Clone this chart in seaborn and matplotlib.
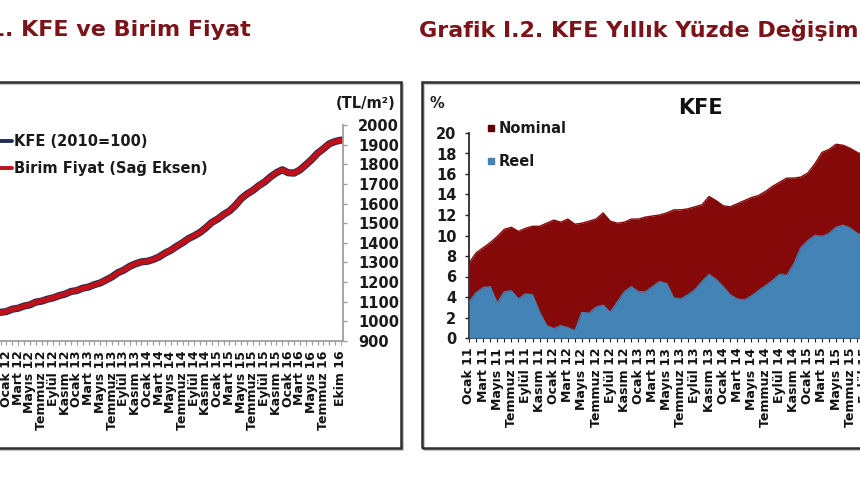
import matplotlib
matplotlib.use("Agg")
import matplotlib.pyplot as plt
import seaborn as sns
import pandas as pd
from matplotlib.patches import Rectangle
from matplotlib.lines import Line2D

sns.set_theme(style="white")
plt.rcParams["font.family"] = ["DejaVu Sans"]

# ---------------- data ----------------
month_names = ["Ocak", "Şubat", "Mart", "Nisan", "Mayıs", "Haziran", "Temmuz",
               "Ağustos", "Eylül", "Ekim", "Kasım", "Aralık"]

# Left chart: categories Ocak 10 .. Ekim 16 (monthly)
left_categories = [f"{month_names[i % 12]} {10 + i // 12}" for i in range(82)]
left_labelled = list(range(0, 79, 2)) + [81]
left_first_visible = 23  # Aralık 11 - earlier months are outside the crop

birim_fiyat = [1044, 1051, 1061, 1068, 1077, 1085, 1097, 1104, 1112, 1121,
               1130, 1140, 1151, 1158, 1168, 1176, 1186, 1197, 1210, 1228,
               1247, 1262, 1279, 1294, 1302, 1307, 1314, 1329, 1346, 1363,
               1381, 1401, 1420, 1437, 1452, 1478, 1503, 1522, 1543, 1563,
               1589, 1626, 1648, 1668, 1690, 1711, 1735, 1758, 1771, 1758,
               1754, 1772, 1796, 1825, 1855, 1880, 1903, 1917, 1922]
kfe = [104.6, 105.0, 106.2, 106.7, 107.8, 108.4, 109.8, 110.3, 111.3, 112.0,
       113.1, 113.9, 115.2, 115.7, 116.9, 117.5, 118.7, 119.6, 121.1, 122.7,
       124.8, 126.1, 128.0, 129.3, 130.3, 130.6, 131.5, 132.8, 134.7, 136.2,
       138.2, 140.0, 142.1, 143.6, 145.3, 147.7, 150.4, 152.1, 154.4, 156.2,
       159.0, 162.5, 164.9, 166.7, 169.1, 171.0, 173.6, 175.7, 177.2, 175.7,
       175.5, 177.1, 179.7, 182.4, 185.6, 187.9, 190.4, 191.6, 192.3]

# Right chart: categories Ocak 11 .. Eylül 16 (monthly), visible part through Ağustos 15
right_categories = [f"{month_names[i % 12]} {11 + i // 12}" for i in range(69)]
right_labelled = list(range(0, 69, 2))

nominal = [7.3, 8.3, 8.8, 9.3, 9.9, 10.6, 10.8, 10.4, 10.7, 10.9,
           10.9, 11.2, 11.5, 11.3, 11.6, 11.1, 11.2, 11.4, 11.6, 12.2,
           11.4, 11.2, 11.3, 11.6, 11.6, 11.8, 11.9, 12.0, 12.2, 12.5,
           12.5, 12.6, 12.8, 13.0, 13.8, 13.4, 12.9, 12.8, 13.1, 13.4,
           13.7, 13.9, 14.3, 14.8, 15.2, 15.6, 15.6, 15.7, 16.1, 17.0,
           18.1, 18.4, 18.9, 18.8, 18.5, 18.1, 17.8]
reel = [3.5, 4.4, 4.9, 5.0, 3.4, 4.5, 4.6, 3.8, 4.3, 4.2,
        2.5, 1.2, 0.9, 1.2, 1.0, 0.7, 2.5, 2.4, 3.0, 3.2,
        2.5, 3.5, 4.5, 5.0, 4.5, 4.5, 5.0, 5.5, 5.3, 3.9,
        3.8, 4.2, 4.7, 5.5, 6.2, 5.7, 5.0, 4.2, 3.8, 3.7,
        4.1, 4.6, 5.1, 5.6, 6.2, 6.1, 7.2, 8.8, 9.5, 10.0,
        9.9, 10.2, 10.8, 11.0, 10.7, 10.2, 9.8]

left_ticks_right = [900, 1000, 1100, 1200, 1300, 1400, 1500, 1600, 1700, 1800, 1900, 2000]
right_yticks = list(range(0, 21, 2))

# ---------------- figure ----------------
W, H = 860, 480
fig = plt.figure(figsize=(W / 100, H / 100), dpi=100)
fig.patch.set_facecolor("white")

def fx(px):
    return px / W

def fy(py):
    return 1 - py / H

title_color = "#7a1419"
frame_color = "#2e2e2e"
tick_font = dict(fontsize=10.5, fontweight="bold", color="#1a1a1a")

# Frames around each chart (with a faint shadow)
for x0, w in ((-20, 421), (422, 460)):
    fig.patches.append(Rectangle((fx(x0 + 2), fy(450)), fx(w), 366 / H, transform=fig.transFigure,
                                 fill=False, lw=1.5, edgecolor="#c8c8c8", zorder=0))
    fig.patches.append(Rectangle((fx(x0), fy(448)), fx(w), 366 / H, transform=fig.transFigure,
                                 fill=False, lw=1.8, edgecolor=frame_color, zorder=0))

# Titles
fig.text(fx(251), fy(30), "Grafik I.1. KFE ve Birim Fiyat", ha="right", va="center",
         fontsize=16, fontweight="bold", color=title_color)
fig.text(fx(419), fy(30), "Grafik I.2. KFE Yıllık Yüzde Değişim", ha="left", va="center",
         fontsize=16, fontweight="bold", color=title_color)

# ---------------- left chart ----------------
lx0, lx1 = -0.35, 81.35
px_per_m = 5.87
left_px = 341 - 81 * px_per_m + lx0 * px_per_m
ax1 = fig.add_axes([fx(left_px), fy(341), fx((lx1 - lx0) * px_per_m), 216 / H])
ax2 = ax1.twinx()

xs_left = list(range(left_first_visible, 82))
df_left = pd.DataFrame({"m": xs_left, "kfe": kfe, "birim": birim_fiyat})
sns.lineplot(data=df_left, x="m", y="kfe", ax=ax1, color="#1f2d50", lw=5.2)
sns.lineplot(data=df_left, x="m", y="birim", ax=ax2, color="#c0111b", lw=3.8)

ax1.set_xlim(lx0, lx1)
ax1.set_ylim(90, 200)
ax2.set_ylim(900, 2000)
ax1.set_xlabel("")
ax1.set_ylabel("")
ax2.set_ylabel("")
for a in (ax1, ax2):
    for s in ("top", "left"):
        a.spines[s].set_visible(False)
    a.set_facecolor("none")
ax1.spines["right"].set_visible(False)
ax1.spines["bottom"].set_color("#9a9a9a")
ax2.spines["bottom"].set_visible(False)
ax2.spines["right"].set_color("#9a9a9a")
ax1.set_yticks([])
ax2.set_yticks(left_ticks_right)
ax2.set_yticklabels([str(v) for v in left_ticks_right], **tick_font)
ax2.tick_params(axis="y", direction="out", length=3, width=1, color="#9a9a9a", pad=8, right=True)
ax1.set_xticks(range(82))
ax1.set_xticklabels([c if i in left_labelled else "" for i, c in enumerate(left_categories)],
                    rotation=90, fontsize=9, fontweight="bold", color="#111111")
ax1.tick_params(axis="x", direction="out", length=3, width=0.8, color="#9a9a9a", pad=4, bottom=True)

fig.text(fx(366), fy(103), "(TL/m²)", ha="center", va="center", **tick_font)

leg1 = ax1.legend(handles=[Line2D([], [], color="#1f2d50", lw=2.8),
                           Line2D([], [], color="#c0111b", lw=2.8)],
                  labels=["KFE (2010=100)", "Birim Fiyat (Sağ Eksen)"],
                  loc="upper left", bbox_to_anchor=(fx(-3), fy(134)),
                  bbox_transform=fig.transFigure, frameon=False, handlelength=1.0,
                  handletextpad=0.15, labelspacing=0.8, borderpad=0, borderaxespad=0,
                  prop=dict(size=10.5, weight="bold"))
for t in leg1.get_texts():
    t.set_color("#1a1a1a")

# ---------------- right chart ----------------
rx0, rx1 = 0, 69
r_px_per_m = 7.06
ax3 = fig.add_axes([fx(469), fy(338), fx((rx1 - rx0) * r_px_per_m), 205 / H])
xs_right = list(range(len(nominal)))
df_right = pd.DataFrame({"m": xs_right, "nominal": nominal, "reel": reel})
nom_color = "#860909"
reel_color = "#4383b6"
ax3.fill_between(df_right["m"], 0, df_right["nominal"], color=nom_color, lw=0, zorder=1)
sns.lineplot(data=df_right, x="m", y="nominal", ax=ax3, color=nom_color, lw=1.0, zorder=2)
ax3.fill_between(df_right["m"], 0, df_right["reel"], color=reel_color, lw=0, zorder=3)
sns.lineplot(data=df_right, x="m", y="reel", ax=ax3, color=reel_color, lw=1.0, zorder=4)

ax3.set_xlim(rx0, rx1)
ax3.set_ylim(0, 20)
ax3.set_xlabel("")
ax3.set_ylabel("")
ax3.set_facecolor("none")
for s in ("top", "right"):
    ax3.spines[s].set_visible(False)
ax3.spines["left"].set_color("#222222")
ax3.spines["bottom"].set_color("#222222")
ax3.set_yticks(right_yticks)
ax3.set_yticklabels([str(v) for v in right_yticks], **tick_font)
ax3.tick_params(axis="y", direction="out", length=3, width=1, color="#222222", pad=6, left=True)
ax3.set_xticks(range(69))
ax3.set_xticklabels([c if i in right_labelled else "" for i, c in enumerate(right_categories)],
                    rotation=90, fontsize=9, fontweight="bold", color="#111111")
ax3.tick_params(axis="x", direction="out", length=3, width=0.8, color="#222222", pad=4, bottom=True)

fig.text(fx(437), fy(103), "%", ha="center", va="center", **tick_font)
fig.text(fx(700), fy(108), "KFE", ha="center", va="center", fontsize=15,
         fontweight="bold", color="#111111")

leg2 = ax3.legend(handles=[Line2D([], [], ls="none", marker="s", ms=4.5, color="#5a0000"),
                           Line2D([], [], ls="none", marker="s", ms=4.5, color=reel_color)],
                  labels=["Nominal", "Reel"], loc="upper left",
                  bbox_to_anchor=(fx(487), fy(121)), bbox_transform=fig.transFigure,
                  frameon=False, handlelength=0.5, handletextpad=0.3, labelspacing=1.25,
                  borderpad=0, borderaxespad=0, prop=dict(size=10.5, weight="bold"))
for t in leg2.get_texts():
    t.set_color("#1a1a1a")

fig.savefig("out.png", dpi=100, facecolor="white")
